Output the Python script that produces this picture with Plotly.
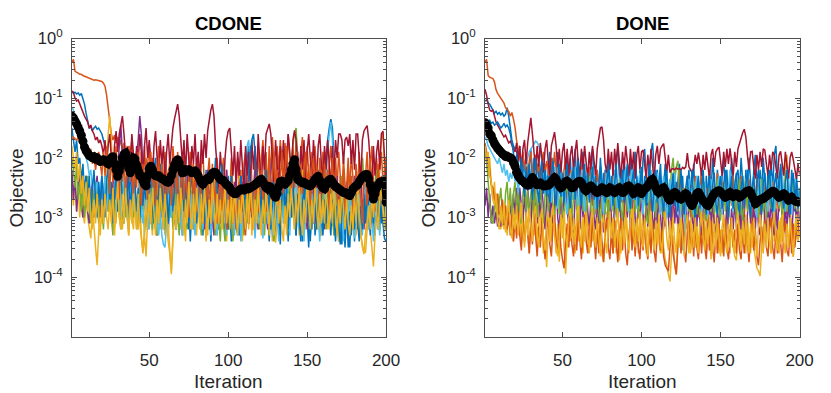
import plotly.graph_objects as go

# ---------------- data (log10 of objective value per iteration) ----------------
run_colors = ["#0072BD", "#D95319", "#EDB120", "#7E2F8E", "#77AC30",
              "#4DBEEE", "#A2142F", "#0072BD", "#D95319", "#EDB120"]
x_tick_values = [50, 100, 150, 200]
y_tick_values = [1, 0.1, 0.01, 0.001, 0.0001]
y_tick_labels = ["10<sup>0</sup>", "10<sup>-1</sup>", "10<sup>-2</sup>", "10<sup>-3</sup>", "10<sup>-4</sup>"]

# ---- CDONE ----
cdone_run01 = [-0.9,-0.92,-0.9,-0.93,-0.91,-0.95,-0.92,-1.0,-1.1,-1.25,-1.4,-1.5,-1.48,-1.55,-1.5,-1.47,-1.52,-1.5,-1.55,-1.6,
-1.7,-1.8,-1.9,-2.0,-2.1,-2.2,-2.05,-2.25,-2.1,-2.2,-2.0,-2.3,-2.1,-2.25,-2.05,-2.2,-2.1,-2.3,-2.05,-2.2,
-2.3,-2.05,-2.2,-2.35,-2.1,-2.25,-2.4,-2.1,-2.5,-2.9,-2.3,-2.8,-2.2,-2.0,-2.6,-3.1,-2.4,-2.7,-3.2,-2.5,
-2.9,-3.3,-2.6,-3.0,-2.2,-2.7,-3.2,-2.5,-2.0,-2.8,-3.3,-2.6,-3.0,-2.3,-2.7,-3.4,-2.9,-2.3,-3.1,-2.6,
-2.1,-2.9,-2.4,-3.3,-2.8,-2.2,-3.0,-2.6,-3.4,-2.9,-2.4,-2.0,-2.7,-3.2,-2.6,-2.2,-3.0,-3.3,-2.8,-2.3,
-2.9,-3.4,-2.6,-3.1,-2.3,-2.8,-3.3,-2.9,-2.4,-3.2,-2.5,-2.0,-1.8,-2.3,-2.9,-2.4,-3.3,-2.8,-3.1,-2.3,
-2.8,-3.2,-2.5,-2.1,-2.9,-3.4,-2.7,-2.3,-3.0,-3.3,-2.5,-2.9,-3.45,-2.7,-2.3,-3.1,-2.8,-3.4,-2.5,-3.0,
-2.3,-2.9,-3.3,-2.6,-3.1,-2.4,-3.4,-2.9,-2.3,-3.0,-3.5,-2.7,-3.2,-2.4,-3.3,-3.0,-2.2,-2.9,-3.3,-2.5,
-2.2,-1.9,-1.7,-1.5,-1.35,-1.5,-2.0,-2.6,-3.1,-3.4,-2.8,-3.45,-3.0,-3.5,-2.9,-3.3,-3.5,-2.9,-2.6,-3.4,
-2.8,-3.2,-2.5,-3.3,-2.7,-3.1,-2.4,-3.2,-2.8,-2.3,-3.1,-2.6,-3.3,-2.9,-2.4,-3.2,-2.7,-3.1,-3.35,-3.4]
cdone_run02 = [-0.4,-0.35,-0.55,-0.56,-0.58,-0.6,-0.6,-0.62,-0.63,-0.65,-0.66,-0.67,-0.67,-0.68,-0.7,-0.69,-0.7,-0.71,-0.72,-0.72,
-0.75,-0.8,-0.95,-1.2,-1.45,-1.6,-1.7,-1.62,-1.75,-1.65,-1.8,-1.7,-1.9,-1.75,-2.0,-1.8,-2.2,-1.9,-1.7,-2.1,
-2.4,-1.9,-2.2,-2.6,-1.9,-2.3,-1.8,-2.5,-2.1,-1.8,-2.4,-2.0,-2.3,-2.7,-2.1,-1.8,-2.4,-2.0,-2.6,-1.9,
-2.3,-2.7,-2.0,-2.4,-1.8,-2.2,-2.8,-1.9,-2.4,-2.0,-2.6,-1.9,-2.3,-2.9,-2.2,-1.9,-2.5,-2.1,-2.7,-2.0,
-2.4,-2.8,-2.1,-1.9,-2.5,-3.0,-2.3,-2.0,-2.7,-2.1,-2.9,-2.4,-2.0,-2.6,-3.1,-2.3,-2.0,-2.8,-2.2,-3.0,
-2.6,-2.0,-2.7,-3.1,-2.3,-2.0,-2.6,-2.2,-2.9,-2.1,-1.9,-2.5,-2.1,-1.8,-2.4,-2.8,-2.0,-2.5,-1.9,-2.4,
-2.0,-1.7,-2.3,-1.9,-2.6,-1.8,-2.3,-1.65,-2.1,-2.5,-1.8,-2.2,-1.7,-2.1,-2.4,-1.75,-2.2,-1.6,-2.0,-2.5,
-1.8,-2.3,-1.7,-2.2,-2.6,-1.9,-1.65,-2.2,-2.5,-1.8,-2.3,-2.7,-1.9,-2.4,-1.8,-2.3,-2.8,-2.0,-2.5,-1.9,
-2.4,-1.9,-2.6,-2.1,-1.8,-2.4,-2.8,-2.0,-2.5,-1.9,-2.3,-2.7,-2.0,-2.5,-2.9,-2.1,-2.6,-1.9,-2.4,-2.8,
-2.1,-2.6,-1.9,-2.5,-2.0,-2.8,-2.3,-1.9,-2.5,-2.1,-1.8,-2.4,-2.7,-2.0,-2.5,-2.2,-1.9,-2.4,-2.8,-2.5]
cdone_run03 = [-2.5,-2.8,-2.3,-2.9,-2.5,-3.0,-2.4,-2.9,-3.1,-2.6,-3.0,-3.2,-3.35,-2.8,-3.2,-3.5,-3.8,-3.2,-2.7,-3.1,
-2.6,-2.4,-2.1,-1.6,-1.3,-1.7,-2.4,-3.0,-3.1,-2.5,-3.0,-2.4,-3.2,-2.7,-2.3,-3.0,-3.3,-2.6,-3.0,-3.2,
-2.5,-2.9,-3.2,-2.6,-3.3,-3.6,-3.3,-3.65,-2.9,-2.4,-2.9,-3.3,-2.6,-3.0,-2.3,-2.9,-3.2,-2.5,-3.0,-3.3,
-2.7,-3.1,-3.5,-3.95,-3.4,-2.7,-2.3,-3.0,-2.5,-3.2,-2.6,-3.0,-3.4,-2.5,-2.9,-3.2,-2.6,-2.3,-3.0,-3.3,
-2.7,-2.4,-3.1,-2.6,-3.0,-3.4,-2.7,-2.4,-3.2,-2.6,-2.3,-3.0,-3.3,-2.7,-2.4,-3.2,-2.6,-3.0,-3.4,-2.7,
-2.4,-3.0,-3.3,-2.6,-3.2,-2.7,-2.3,-3.0,-3.4,-2.6,-3.0,-2.5,-3.2,-2.7,-3.3,-2.6,-2.3,-3.0,-3.2,-2.6,
-3.0,-3.3,-2.6,-3.1,-2.7,-3.3,-2.9,-3.4,-3.0,-3.42,-3.1,-2.6,-3.0,-2.4,-3.1,-2.7,-3.3,-2.6,-3.0,-2.3,
-2.8,-3.2,-2.5,-3.0,-3.3,-2.6,-2.2,-2.9,-3.2,-2.5,-3.0,-3.3,-2.6,-2.3,-3.0,-3.2,-2.6,-2.9,-3.3,-2.5,
-3.0,-2.6,-3.2,-2.8,-2.3,-3.0,-3.3,-2.6,-3.0,-3.4,-2.7,-2.4,-3.1,-2.6,-3.0,-3.3,-2.7,-3.2,-2.6,-3.0,
-3.3,-2.7,-3.1,-3.3,-3.5,-3.6,-3.3,-2.9,-2.5,-3.2,-3.5,-3.82,-3.3,-2.8,-2.4,-2.0,-1.7,-1.56,-2.2,-2.9]
cdone_run04 = [-2.2,-2.7,-2.3,-2.9,-2.5,-2.2,-2.8,-3.0,-2.5,-2.3,-2.9,-3.1,-2.6,-2.4,-3.0,-2.5,-2.3,-2.8,-3.0,-2.4,
-2.8,-2.3,-2.9,-2.5,-2.2,-2.8,-2.4,-2.1,-2.7,-2.2,-1.8,-1.45,-2.0,-2.6,-2.9,-2.3,-3.0,-2.5,-2.2,-2.7,
-2.3,-2.0,-1.7,-1.3,-1.6,-2.2,-2.7,-3.0,-2.4,-2.8,-3.1,-2.5,-2.9,-3.2,-3.3,-2.7,-2.3,-3.0,-2.5,-2.2,
-2.8,-3.1,-2.5,-2.9,-2.3,-3.0,-3.2,-2.6,-2.2,-2.9,-2.4,-3.1,-2.6,-2.3,-3.0,-2.5,-2.9,-3.2,-2.6,-2.2,
-2.9,-2.4,-3.0,-2.6,-3.2,-2.5,-2.2,-2.9,-2.4,-3.0,-3.3,-2.6,-2.3,-2.9,-3.1,-2.5,-3.0,-2.6,-2.2,-2.9,
-3.2,-2.6,-3.0,-2.4,-2.9,-3.2,-2.6,-2.3,-3.0,-2.5,-2.2,-2.9,-3.1,-2.5,-3.0,-2.6,-2.2,-2.9,-3.2,-2.6,
-2.3,-3.0,-2.5,-2.9,-3.2,-2.6,-2.2,-2.0,-2.6,-3.0,-2.6,-3.2,-2.8,-2.3,-3.0,-2.5,-2.1,-2.7,-3.0,-2.5,
-2.9,-2.4,-2.1,-1.9,-2.4,-2.8,-3.0,-2.5,-2.9,-3.2,-2.6,-2.3,-2.9,-2.5,-3.1,-2.6,-2.3,-3.0,-2.5,-2.9,
-3.2,-2.6,-2.3,-3.0,-2.5,-2.9,-3.2,-2.6,-2.3,-2.9,-2.5,-3.1,-2.6,-3.0,-2.4,-2.9,-3.2,-2.5,-2.9,-2.3,
-2.7,-3.0,-2.5,-2.2,-2.9,-3.2,-2.6,-2.3,-3.0,-2.5,-2.9,-3.2,-2.6,-2.3,-2.9,-2.5,-3.0,-2.6,-2.3,-2.9]
cdone_run05 = [-2.0,-2.2,-2.5,-2.1,-2.7,-2.4,-2.9,-2.4,-3.0,-2.6,-2.3,-2.8,-3.1,-2.5,-2.9,-2.4,-2.8,-3.1,-2.5,-2.9,
-3.2,-2.6,-2.3,-2.9,-2.5,-3.0,-3.3,-2.6,-3.0,-2.4,-2.9,-3.2,-2.6,-2.3,-3.0,-2.6,-3.2,-2.8,-2.4,-3.0,
-2.6,-3.2,-2.8,-2.3,-3.0,-2.6,-3.3,-2.8,-2.4,-3.0,-2.6,-3.2,-2.5,-2.9,-3.3,-2.6,-3.0,-2.4,-2.9,-3.2,
-2.6,-2.3,-3.0,-2.6,-3.2,-2.8,-2.4,-3.0,-3.3,-2.6,-3.0,-2.4,-2.9,-3.2,-2.6,-2.3,-2.9,-3.2,-2.6,-3.0,
-2.4,-3.0,-3.3,-2.8,-2.4,-3.0,-2.6,-3.2,-2.8,-2.3,-3.0,-3.3,-2.6,-3.0,-3.4,-2.8,-3.1,-3.4,-2.9,-3.2,
-2.7,-3.1,-3.4,-2.9,-3.2,-2.7,-3.1,-2.5,-3.0,-3.3,-2.7,-3.1,-2.5,-2.9,-2.4,-2.8,-3.2,-2.6,-3.0,-3.2,
-2.6,-3.0,-3.3,-2.7,-3.1,-2.5,-3.0,-3.2,-3.4,-2.9,-2.5,-3.1,-2.7,-2.4,-3.0,-2.6,-3.1,-2.7,-2.3,-2.0,
-1.8,-1.6,-1.5,-2.0,-2.5,-2.9,-3.2,-2.6,-3.0,-2.4,-2.8,-3.3,-2.6,-3.0,-2.4,-2.9,-3.2,-2.6,-3.0,-2.5,
-2.9,-3.2,-2.6,-3.0,-2.4,-2.9,-3.3,-2.6,-3.0,-3.2,-2.6,-2.3,-2.9,-3.2,-2.6,-3.0,-2.4,-2.8,-3.2,-2.6,
-3.0,-2.4,-2.8,-2.3,-2.0,-2.5,-3.0,-2.6,-3.2,-2.8,-2.4,-3.0,-2.6,-2.2,-2.8,-3.2,-2.6,-2.3,-2.9,-3.0]
cdone_run06 = [-1.15,-1.2,-1.4,-1.5,-1.6,-1.65,-1.7,-1.8,-1.9,-2.0,-2.1,-2.3,-2.2,-2.5,-2.3,-2.6,-2.4,-2.7,-2.5,-2.3,
-2.7,-2.3,-2.9,-2.5,-2.2,-2.8,-3.1,-2.6,-2.3,-2.9,-2.4,-3.0,-2.7,-2.3,-2.6,-3.0,-3.2,-2.6,-2.4,-2.9,
-2.5,-3.0,-2.7,-2.2,-2.9,-3.1,-2.5,-3.0,-2.6,-3.2,-2.8,-2.4,-3.0,-2.6,-3.1,-3.3,-2.9,-3.3,-3.45,-3.5,
-3.1,-2.7,-2.3,-3.0,-2.5,-2.9,-3.2,-2.6,-2.3,-3.0,-3.3,-2.6,-2.2,-2.9,-2.5,-3.1,-2.6,-3.0,-3.3,-2.7,
-2.4,-3.0,-2.6,-3.2,-2.8,-2.3,-3.0,-2.6,-3.3,-2.8,-2.4,-3.0,-3.3,-2.7,-2.4,-3.1,-2.6,-3.0,-3.3,-2.6,
-3.0,-2.5,-2.9,-3.3,-2.6,-3.1,-2.7,-3.4,-2.9,-2.5,-2.1,-1.8,-1.7,-2.1,-2.6,-3.0,-3.35,-2.8,-3.1,-2.6,
-3.0,-3.35,-2.7,-2.4,-3.1,-2.6,-3.0,-3.3,-2.7,-2.4,-3.0,-3.4,-2.8,-2.5,-3.1,-2.7,-2.4,-3.0,-3.3,-2.6,
-3.0,-2.6,-2.3,-2.9,-3.2,-2.6,-3.0,-3.4,-2.8,-2.4,-3.0,-3.3,-2.6,-3.1,-2.7,-2.3,-3.0,-3.4,-2.8,-3.1,
-2.6,-2.2,-1.9,-1.6,-1.4,-1.7,-2.3,-2.8,-3.1,-2.7,-3.2,-2.8,-3.4,-2.8,-3.2,-2.7,-3.1,-2.6,-3.0,-3.35,
-2.7,-3.1,-2.6,-3.0,-3.3,-2.7,-2.4,-3.0,-3.2,-2.6,-3.0,-3.4,-2.8,-2.5,-3.0,-3.3,-2.6,-2.3,-2.9,-3.2]
cdone_run07 = [-0.88,-0.9,-1.0,-1.05,-1.03,-1.1,-1.15,-1.25,-1.3,-1.35,-1.4,-1.5,-1.45,-1.55,-1.6,-1.7,-1.65,-1.75,-1.7,-1.8,
-1.95,-1.7,-2.1,-1.8,-1.6,-2.0,-2.3,-1.8,-1.55,-1.9,-1.6,-1.45,-1.3,-1.6,-2.0,-2.3,-1.8,-2.1,-1.6,-1.9,
-2.3,-1.8,-2.1,-1.6,-1.9,-2.4,-1.8,-1.5,-2.0,-1.7,-2.0,-2.4,-1.8,-1.55,-2.0,-2.3,-1.7,-2.1,-1.8,-2.4,
-1.9,-1.6,-2.1,-1.8,-1.5,-1.35,-1.2,-1.1,-1.3,-1.7,-2.1,-1.7,-2.3,-1.6,-2.0,-2.4,-1.8,-2.1,-1.6,-2.2,
-1.9,-2.4,-1.7,-2.1,-1.6,-2.0,-1.55,-1.35,-1.2,-1.1,-1.3,-1.8,-2.1,-2.5,-1.9,-2.3,-2.6,-2.0,-1.7,-1.55,
-1.5,-1.9,-2.3,-1.8,-2.5,-1.9,-2.3,-1.7,-2.2,-2.6,-1.8,-2.3,-1.9,-2.5,-1.7,-2.2,-1.8,-2.4,-1.6,-2.1,
-2.5,-1.8,-2.2,-1.6,-1.5,-1.43,-1.6,-2.0,-2.4,-1.7,-2.1,-2.5,-1.8,-2.2,-1.7,-2.4,-2.0,-1.6,-1.9,-2.3,
-1.7,-1.54,-1.7,-2.1,-2.5,-1.8,-2.2,-1.7,-2.4,-1.9,-1.6,-2.0,-2.4,-1.7,-2.2,-2.5,-1.8,-1.6,-2.1,-2.4,
-1.8,-2.2,-1.7,-2.1,-2.5,-1.8,-2.3,-1.7,-2.0,-1.6,-1.6,-1.7,-2.1,-1.7,-1.65,-1.8,-1.6,-2.1,-1.7,-2.2,
-1.6,-1.6,-2.0,-2.4,-1.7,-1.55,-1.5,-1.46,-1.7,-2.1,-2.5,-1.8,-2.3,-1.9,-1.7,-2.2,-1.6,-1.55,-2.0,-2.4]
cdone_run08 = [-1.5,-1.7,-1.9,-1.7,-2.1,-2.0,-2.4,-2.1,-2.6,-2.3,-2.8,-2.3,-2.9,-2.5,-2.2,-2.7,-3.0,-2.4,-2.8,-2.3,
-2.7,-3.0,-2.4,-2.1,-2.8,-2.4,-3.1,-2.6,-2.2,-2.9,-2.5,-2.1,-2.8,-3.1,-2.4,-2.8,-2.2,-2.9,-2.5,-2.1,
-2.4,-2.9,-2.5,-3.1,-2.3,-2.8,-2.4,-2.9,-3.2,-2.5,-2.2,-2.8,-3.1,-2.4,-2.9,-2.5,-2.1,-2.8,-2.4,-3.0,
-2.5,-3.1,-2.7,-2.2,-2.9,-2.4,-2.1,-2.8,-3.1,-2.5,-2.2,-2.9,-2.4,-2.8,-3.2,-2.5,-2.2,-2.8,-2.4,-3.1,
-2.7,-2.2,-2.9,-2.5,-3.1,-2.4,-2.8,-3.2,-2.5,-2.2,-2.8,-3.1,-2.4,-2.9,-2.5,-2.1,-2.8,-2.4,-2.9,-3.2,
-2.7,-2.3,-2.9,-2.5,-3.1,-3.3,-2.7,-2.3,-2.9,-2.5,-3.2,-2.7,-2.3,-1.9,-1.7,-1.6,-1.9,-2.4,-2.8,-3.0,
-2.5,-3.1,-2.7,-2.2,-2.9,-2.5,-3.2,-2.7,-2.4,-3.0,-2.5,-2.9,-3.3,-2.7,-2.3,-2.9,-2.5,-3.2,-2.7,-3.0,
-2.5,-2.9,-3.3,-2.6,-3.0,-3.4,-2.8,-2.4,-3.1,-2.6,-3.0,-3.4,-2.7,-3.1,-2.6,-3.2,-2.8,-2.4,-3.0,-3.3,
-2.7,-3.1,-2.6,-2.9,-3.3,-2.7,-3.1,-3.4,-2.8,-3.2,-3.45,-2.9,-2.6,-3.3,-2.8,-3.5,-2.9,-3.3,-2.8,-3.2,
-2.6,-3.1,-3.4,-2.8,-3.2,-2.6,-3.1,-2.5,-2.9,-3.3,-2.7,-3.1,-2.4,-2.9,-3.2,-2.7,-3.1,-2.5,-2.9,-3.2]
cdone_run09 = [-1.7,-1.65,-1.68,-1.7,-1.66,-1.72,-1.68,-1.7,-1.75,-1.8,-1.9,-2.0,-1.85,-2.1,-1.95,-2.2,-2.0,-1.9,-2.1,-2.3,
-1.9,-2.3,-1.8,-2.2,-2.6,-1.9,-2.4,-2.0,-1.8,-2.3,-2.7,-2.0,-2.4,-1.9,-2.6,-2.2,-1.8,-2.4,-2.0,-2.7,
-2.1,-2.5,-1.9,-2.4,-2.8,-2.1,-2.5,-2.0,-2.7,-2.3,-1.9,-2.5,-2.1,-2.8,-2.3,-2.0,-2.6,-2.1,-2.5,-2.9,
-2.2,-2.6,-2.1,-2.8,-2.4,-2.0,-2.6,-2.2,-2.9,-2.4,-2.1,-2.7,-2.3,-2.6,-3.0,-2.4,-2.1,-2.7,-2.3,-2.9,
-2.5,-2.2,-2.7,-3.1,-2.5,-2.8,-2.3,-3.0,-2.5,-2.2,-2.8,-2.4,-3.1,-2.6,-2.3,-2.9,-2.4,-2.8,-3.2,-2.6,
-2.9,-2.4,-3.1,-2.6,-3.2,-2.7,-2.4,-2.9,-2.5,-3.1,-3.3,-2.7,-2.4,-2.9,-2.5,-3.2,-2.7,-2.3,-2.9,-2.5,
-2.2,-2.7,-2.3,-2.9,-2.4,-2.0,-2.7,-2.3,-1.9,-2.6,-2.2,-2.8,-2.3,-1.9,-2.6,-2.1,-1.8,-2.4,-2.0,-2.6,
-2.1,-2.5,-1.9,-2.4,-2.8,-2.1,-2.6,-2.2,-1.9,-2.5,-2.1,-2.8,-2.2,-2.0,-2.6,-2.1,-2.5,-2.9,-2.2,-2.6,
-2.1,-2.6,-2.2,-2.9,-2.4,-2.0,-2.7,-2.2,-2.6,-3.0,-2.3,-2.7,-2.2,-2.9,-2.5,-2.0,-2.7,-2.3,-3.0,-2.5,
-2.2,-2.8,-2.3,-2.7,-3.1,-2.4,-2.2,-2.8,-2.3,-2.0,-2.7,-2.3,-2.9,-2.4,-2.1,-2.8,-2.3,-2.7,-2.2,-2.0]
cdone_run10 = [-1.8,-2.0,-2.2,-1.9,-2.4,-2.1,-2.6,-2.3,-2.8,-2.4,-2.9,-2.5,-3.0,-3.2,-2.7,-3.1,-2.6,-3.0,-3.3,-2.7,
-3.1,-2.6,-3.0,-3.2,-2.7,-3.1,-2.5,-3.3,-2.8,-2.4,-3.0,-3.2,-2.6,-3.1,-2.5,-2.9,-3.3,-2.7,-3.1,-2.6,
-2.9,-3.2,-2.6,-3.1,-3.35,-3.55,-3.2,-2.7,-3.2,-2.6,-3.1,-2.5,-2.9,-3.3,-2.7,-3.1,-2.5,-2.9,-3.2,-2.6,
-3.1,-3.4,-3.6,-3.9,-3.3,-2.8,-3.2,-2.6,-3.1,-2.5,-2.9,-3.3,-2.7,-3.1,-2.4,-2.9,-3.2,-2.6,-3.1,-2.5,
-2.9,-3.2,-2.6,-3.1,-2.5,-2.9,-3.3,-2.7,-3.1,-2.4,-2.9,-3.2,-2.6,-3.1,-2.7,-3.2,-2.8,-2.5,-3.1,-2.7,
-3.2,-2.6,-3.1,-2.5,-2.9,-3.3,-2.7,-3.1,-2.5,-2.9,-3.2,-2.6,-3.1,-2.4,-2.9,-3.2,-2.7,-3.1,-2.5,-2.9,
-3.3,-2.7,-3.1,-2.5,-2.9,-3.2,-2.7,-3.1,-3.3,-2.8,-2.5,-3.1,-2.7,-3.2,-3.4,-2.8,-3.2,-2.6,-3.0,-2.5,
-2.9,-3.2,-2.6,-3.1,-2.5,-2.9,-3.3,-2.7,-3.1,-2.4,-2.9,-3.2,-2.7,-3.1,-2.5,-2.9,-3.2,-2.6,-3.1,-2.7,
-3.1,-2.5,-2.9,-3.2,-2.6,-3.1,-2.5,-2.9,-3.3,-2.7,-3.1,-2.5,-2.9,-3.2,-2.7,-3.1,-3.3,-2.8,-3.2,-2.6,
-3.1,-2.5,-2.9,-3.3,-3.45,-3.6,-3.58,-3.2,-2.8,-3.2,-2.6,-3.0,-2.5,-2.9,-3.2,-2.7,-2.4,-2.9,-3.2,-2.7]
cdone_mean = [-1.30,-1.33,-1.38,-1.43,-1.49,-1.55,-1.62,-1.72,-1.82,-1.88,-1.92,-1.96,-1.98,-2.0,-1.98,-2.02,-2.0,-2.04,-2.06,-2.05,
-2.03,-2.05,-2.08,-2.1,-2.04,-2.0,-1.98,-2.1,-2.2,-2.31,-2.22,-2.12,-2.0,-1.94,-1.92,-2.05,-2.18,-2.25,-2.12,-2.0,
-2.02,-2.12,-2.22,-2.3,-2.31,-2.38,-2.44,-2.47,-2.3,-2.18,-2.14,-2.2,-2.27,-2.3,-2.31,-2.3,-2.33,-2.35,-2.36,-2.38,
-2.4,-2.41,-2.38,-2.3,-2.2,-2.12,-2.06,-2.03,-2.08,-2.18,-2.25,-2.24,-2.2,-2.22,-2.2,-2.22,-2.25,-2.24,-2.22,-2.25,
-2.3,-2.36,-2.42,-2.44,-2.4,-2.36,-2.34,-2.36,-2.3,-2.26,-2.24,-2.25,-2.28,-2.32,-2.36,-2.37,-2.38,-2.42,-2.45,-2.47,
-2.5,-2.55,-2.58,-2.6,-2.6,-2.57,-2.55,-2.52,-2.52,-2.54,-2.52,-2.5,-2.52,-2.5,-2.48,-2.47,-2.45,-2.43,-2.4,-2.37,
-2.36,-2.4,-2.45,-2.5,-2.52,-2.48,-2.5,-2.56,-2.62,-2.66,-2.6,-2.48,-2.4,-2.39,-2.42,-2.44,-2.41,-2.38,-2.3,-2.2,
-2.1,-2.03,-2.2,-2.36,-2.38,-2.4,-2.42,-2.41,-2.43,-2.45,-2.46,-2.47,-2.44,-2.4,-2.36,-2.33,-2.31,-2.38,-2.46,-2.5,
-2.52,-2.46,-2.4,-2.37,-2.36,-2.4,-2.45,-2.48,-2.5,-2.52,-2.54,-2.56,-2.58,-2.58,-2.6,-2.62,-2.63,-2.58,-2.52,-2.49,
-2.47,-2.45,-2.4,-2.36,-2.32,-2.3,-2.28,-2.28,-2.35,-2.45,-2.55,-2.69,-2.6,-2.5,-2.45,-2.41,-2.4,-2.39,-2.39,-2.74]

# ---- DONE ----
done_run01 = [-1.05,-1.03,-1.08,-1.1,-1.15,-1.2,-1.25,-1.22,-1.27,-1.24,-1.28,-1.25,-1.3,-1.27,-1.16,-1.3,-1.55,-1.7,-1.8,-1.85,
-1.9,-2.1,-1.8,-2.3,-1.95,-2.4,-2.0,-2.5,-2.1,-1.85,-2.4,-2.0,-2.6,-2.1,-2.3,-2.7,-1.95,-2.4,-2.1,-2.7,
-2.2,-1.9,-2.5,-2.0,-2.7,-2.2,-1.9,-2.6,-2.1,-2.4,-2.8,-2.2,-1.9,-2.5,-2.0,-2.7,-2.2,-1.85,-2.4,-2.0,
-2.6,-2.2,-1.9,-2.5,-2.8,-2.2,-2.6,-2.0,-1.85,-2.4,-2.75,-2.2,-2.6,-2.0,-2.4,-2.85,-2.2,-2.7,-2.0,-2.5,
-2.8,-2.2,-2.6,-2.0,-1.85,-2.3,-2.75,-2.4,-2.0,-2.6,-2.9,-2.3,-2.0,-2.7,-2.2,-1.9,-2.4,-2.8,-2.2,-2.6,
-2.0,-1.85,-2.4,-2.8,-2.2,-1.9,-1.75,-2.1,-2.6,-2.2,-2.8,-2.3,-2.9,-2.5,-2.1,-2.7,-3.0,-2.4,-2.8,-2.3,
-2.7,-3.0,-2.4,-2.1,-2.7,-2.3,-2.9,-3.1,-2.5,-2.2,-2.8,-2.4,-2.1,-2.7,-3.0,-2.4,-2.8,-2.2,-2.6,-2.9,
-2.3,-2.7,-2.2,-2.6,-2.0,-2.4,-2.8,-2.2,-2.6,-2.9,-2.3,-2.0,-2.6,-2.2,-2.8,-2.4,-2.0,-2.6,-2.9,-2.3,
-2.2,-2.6,-2.0,-2.4,-2.8,-2.2,-2.6,-2.0,-2.4,-2.8,-2.2,-1.95,-2.5,-2.8,-2.2,-2.6,-2.0,-2.4,-2.8,-2.2,
-2.6,-2.1,-2.5,-1.95,-1.8,-2.3,-2.7,-2.1,-2.5,-2.8,-2.2,-2.0,-2.5,-2.8,-2.2,-2.6,-2.9,-2.3,-2.7,-2.5]
done_run02 = [-0.4,-0.35,-0.62,-0.65,-0.66,-0.67,-0.73,-0.86,-0.92,-0.96,-1.0,-1.03,-1.08,-1.16,-1.2,-1.22,-1.3,-1.24,-1.35,-1.49,
-1.71,-1.87,-2.0,-2.15,-1.9,-2.2,-1.95,-2.3,-2.05,-1.9,-2.2,-2.4,-1.95,-2.25,-2.05,-2.4,-2.1,-1.9,-2.3,-2.05,
-2.2,-2.45,-2.0,-2.3,-1.9,-2.2,-2.5,-2.1,-2.35,-2.6,-2.2,-2.0,-2.4,-2.65,-2.2,-2.45,-2.1,-2.35,-2.7,-2.25,
-2.5,-2.15,-2.4,-2.75,-2.3,-2.55,-2.15,-2.45,-2.8,-2.35,-2.6,-2.2,-2.5,-2.85,-2.4,-2.65,-2.25,-2.5,-2.9,-2.4,
-2.7,-2.3,-2.55,-2.95,-2.45,-2.75,-2.3,-2.6,-3.0,-2.5,-2.8,-2.35,-2.65,-3.05,-2.5,-2.8,-2.4,-2.7,-3.1,-2.55,
-2.85,-2.4,-2.7,-3.1,-2.55,-2.9,-2.45,-2.75,-3.15,-2.6,-2.9,-2.45,-2.8,-3.2,-2.65,-2.95,-2.5,-2.85,-3.2,-2.7,
-2.4,-2.9,-2.55,-2.2,-2.7,-3.0,-2.5,-2.8,-2.3,-2.65,-3.0,-2.45,-2.8,-2.3,-2.6,-3.0,-2.5,-2.2,-2.7,-3.05,
-2.5,-2.8,-2.3,-2.65,-3.0,-2.45,-2.75,-2.25,-2.6,-2.95,-2.4,-2.8,-2.3,-2.7,-3.05,-2.5,-2.8,-2.3,-2.65,-3.0,
-2.45,-2.8,-2.3,-2.6,-3.0,-2.5,-2.85,-2.35,-2.7,-3.1,-2.5,-2.8,-2.3,-2.7,-3.05,-2.5,-2.85,-2.4,-2.75,-3.1,
-2.55,-2.9,-2.4,-2.75,-3.15,-2.6,-2.9,-2.45,-2.8,-3.2,-2.6,-2.95,-2.5,-2.85,-3.25,-3.3,-3.45,-3.2,-3.35,-3.3]
done_run03 = [-1.9,-2.1,-2.3,-2.0,-2.5,-2.7,-2.4,-2.9,-2.6,-3.0,-3.2,-2.7,-3.2,-2.8,-3.3,-2.9,-2.7,-3.2,-3.4,-2.9,
-2.7,-3.2,-2.8,-3.4,-2.9,-3.5,-2.8,-3.2,-3.6,-2.9,-2.7,-3.3,-2.9,-3.5,-3.0,-2.8,-3.3,-3.6,-3.4,-3.83,
-3.2,-2.8,-3.4,-2.8,-3.2,-3.6,-3.1,-3.74,-3.2,-2.8,-3.5,-3.94,-3.3,-2.9,-3.4,-2.8,-3.3,-3.6,-3.0,-3.4,
-2.8,-3.3,-3.6,-3.0,-2.7,-3.3,-3.6,-2.9,-3.4,-3.0,-3.6,-3.1,-2.8,-3.5,-3.6,-3.74,-3.3,-2.9,-3.4,-2.8,
-3.3,-3.6,-3.0,-3.6,-3.2,-3.72,-3.3,-2.9,-3.4,-2.8,-3.2,-3.6,-3.0,-3.4,-2.8,-3.5,-3.1,-3.6,-3.0,-3.4,
-2.8,-3.3,-3.6,-3.0,-2.8,-3.4,-3.0,-3.6,-3.2,-2.8,-3.4,-3.6,-3.1,-3.5,-3.7,-3.8,-3.95,-4.07,-3.6,-3.3,
-3.8,-3.96,-3.4,-3.0,-3.5,-2.9,-3.4,-2.8,-3.2,-3.6,-3.0,-3.4,-2.8,-3.5,-3.1,-3.6,-3.0,-3.4,-2.8,-3.3,
-3.6,-3.0,-3.4,-3.7,-3.1,-2.8,-3.4,-3.0,-3.6,-3.2,-3.6,-3.0,-3.4,-2.8,-3.3,-3.6,-3.0,-3.5,-3.65,-3.72,
-3.3,-2.9,-3.4,-2.8,-3.2,-3.6,-3.0,-3.4,-3.6,-3.1,-3.5,-3.7,-3.85,-3.9,-3.98,-3.5,-3.2,-2.9,-3.4,-2.8,
-3.3,-3.6,-3.0,-3.4,-2.8,-3.2,-3.6,-3.0,-3.4,-2.6,-2.1,-1.95,-2.4,-3.0,-3.5,-3.66,-3.2,-2.9,-3.3,-2.9]
done_run04 = [-2.8,-2.5,-3.0,-2.6,-3.1,-2.8,-3.1,-2.9,-3.15,-3.0,-3.15,-3.05,-3.12,-3.0,-3.17,-3.05,-2.8,-3.0,-2.6,-2.95,
-2.5,-3.0,-2.5,-2.8,-3.1,-2.6,-3.0,-2.5,-2.85,-3.15,-2.6,-2.4,-2.9,-3.1,-2.6,-3.0,-2.5,-2.85,-3.2,-2.7,
-2.4,-3.0,-2.6,-3.1,-2.7,-2.4,-3.0,-3.2,-2.6,-3.0,-2.6,-2.35,-2.9,-3.1,-2.6,-3.0,-3.25,-2.7,-2.4,-3.0,
-3.2,-2.6,-3.0,-2.5,-2.35,-2.9,-3.15,-2.7,-2.4,-3.0,-3.2,-2.7,-3.1,-2.5,-2.95,-3.25,-2.7,-2.5,-3.05,-2.6,
-3.0,-3.3,-2.7,-2.5,-3.05,-2.6,-3.1,-3.3,-2.8,-2.5,-3.0,-2.6,-3.15,-2.7,-2.45,-3.0,-3.2,-2.7,-3.1,-2.6,
-3.0,-3.25,-2.7,-3.15,-2.65,-2.45,-3.0,-3.2,-2.7,-3.1,-2.6,-3.0,-3.3,-2.8,-3.15,-2.65,-3.1,-3.35,-2.85,-2.6,
-3.1,-2.65,-3.2,-2.8,-2.55,-3.1,-3.3,-2.8,-3.2,-2.7,-2.5,-3.0,-3.25,-2.75,-3.15,-2.65,-3.1,-3.3,-2.8,-2.55,
-3.05,-3.25,-2.75,-3.15,-2.65,-3.1,-3.35,-2.85,-3.2,-2.7,-2.55,-3.05,-3.25,-2.8,-3.2,-3.3,-2.85,-3.2,-2.7,-3.15,
-3.3,-2.8,-3.2,-2.7,-3.1,-3.3,-2.85,-2.6,-3.1,-3.25,-2.8,-3.2,-2.7,-3.15,-3.3,-2.8,-2.6,-3.05,-3.25,-2.8,
-3.15,-2.7,-3.1,-3.3,-2.85,-3.2,-2.7,-2.55,-3.05,-3.25,-2.8,-3.2,-2.7,-3.15,-3.3,-2.85,-2.65,-3.1,-2.75,-3.05]
done_run05 = [-1.9,-2.0,-2.4,-2.8,-3.05,-3.1,-2.8,-2.6,-3.0,-2.7,-2.5,-2.9,-3.1,-2.6,-2.4,-2.9,-2.5,-3.0,-2.6,-2.4,
-2.9,-2.5,-3.0,-3.1,-2.6,-2.4,-2.9,-2.55,-3.05,-2.6,-2.4,-2.95,-2.5,-3.0,-2.65,-2.4,-2.9,-3.1,-2.6,-2.45,
-2.95,-2.55,-2.3,-2.85,-3.05,-2.6,-2.4,-2.95,-2.5,-2.9,-3.1,-2.6,-2.4,-2.9,-2.55,-3.0,-2.6,-2.35,-2.85,-3.05,
-2.6,-2.35,-2.9,-2.5,-3.0,-2.6,-2.3,-2.85,-3.05,-2.55,-2.95,-2.5,-2.9,-3.1,-2.6,-2.4,-2.95,-2.55,-3.0,-2.6,
-2.35,-2.9,-2.5,-3.0,-2.6,-2.35,-2.85,-3.05,-2.6,-2.4,-2.9,-2.5,-3.0,-2.6,-2.35,-2.9,-2.55,-3.0,-2.65,-2.4,
-2.9,-2.5,-2.95,-3.1,-2.6,-2.35,-2.85,-2.5,-3.0,-2.6,-2.4,-2.9,-2.55,-3.0,-2.6,-2.35,-2.9,-2.5,-2.2,-2.0,
-2.4,-2.15,-2.05,-2.5,-2.9,-2.5,-3.0,-2.6,-2.4,-2.9,-2.55,-3.0,-2.6,-2.4,-2.95,-2.5,-3.0,-2.6,-2.35,-2.85,
-3.05,-2.6,-2.4,-2.9,-2.5,-2.95,-2.6,-2.35,-2.85,-3.05,-2.6,-2.4,-2.9,-2.5,-3.0,-2.6,-2.35,-2.9,-2.55,-3.0,
-2.6,-2.35,-2.85,-3.05,-2.6,-2.35,-2.9,-2.5,-2.95,-2.6,-2.35,-2.9,-2.5,-3.0,-2.6,-2.35,-2.9,-2.55,-3.0,-2.6,
-2.35,-2.85,-2.5,-2.95,-2.55,-2.3,-2.85,-2.5,-3.0,-2.6,-2.35,-2.9,-2.5,-2.95,-2.6,-2.35,-2.85,-2.5,-2.9,-2.55]
done_run06 = [-1.65,-1.7,-1.8,-1.85,-1.9,-1.95,-2.0,-2.05,-2.1,-2.0,-2.15,-2.25,-2.1,-2.3,-2.2,-2.4,-2.25,-2.35,-2.2,-2.4,
-2.3,-2.6,-2.3,-2.15,-2.45,-2.3,-2.1,-2.0,-1.9,-1.85,-1.8,-1.75,-1.72,-1.74,-1.8,-1.9,-2.05,-2.3,-2.6,-2.3,
-2.6,-2.25,-2.75,-2.4,-2.15,-2.6,-2.85,-2.4,-2.2,-2.65,-2.35,-2.7,-2.95,-2.45,-2.25,-2.7,-2.4,-2.15,-2.6,-2.85,
-2.4,-2.2,-2.65,-2.9,-2.45,-2.25,-2.7,-2.35,-2.1,-2.6,-2.85,-2.4,-2.7,-2.25,-2.6,-2.95,-2.45,-2.2,-2.7,-2.4,
-2.85,-2.45,-2.2,-2.65,-2.9,-2.45,-2.25,-2.7,-2.35,-2.15,-2.65,-2.9,-2.45,-2.2,-2.7,-2.4,-2.85,-2.45,-2.25,-2.7,
-2.95,-2.5,-2.3,-2.75,-2.4,-2.2,-2.65,-2.9,-2.45,-2.25,-2.7,-2.95,-2.5,-2.3,-2.75,-3.0,-2.55,-2.35,-2.8,-2.45,
-2.25,-2.7,-2.95,-2.5,-3.2,-3.55,-3.2,-2.9,-2.55,-2.35,-2.8,-2.5,-2.95,-2.55,-2.3,-2.8,-2.45,-2.95,-2.6,-2.4,
-2.8,-3.0,-2.55,-2.35,-2.8,-2.5,-2.9,-2.55,-2.3,-2.75,-2.95,-2.5,-2.35,-2.8,-2.45,-2.2,-2.7,-2.9,-2.5,-2.3,
-2.75,-2.95,-2.5,-2.3,-2.8,-2.45,-2.2,-2.7,-2.9,-2.5,-2.3,-2.8,-3.0,-2.55,-2.35,-2.8,-2.45,-2.25,-2.7,-2.9,
-2.5,-2.3,-2.75,-2.95,-2.55,-2.35,-2.8,-2.45,-2.2,-2.7,-2.9,-2.5,-2.3,-2.75,-2.95,-2.55,-2.35,-2.8,-2.5,-2.8]
done_run07 = [-0.85,-0.95,-1.1,-1.2,-1.22,-1.2,-1.3,-1.4,-1.45,-1.5,-1.55,-1.6,-1.65,-1.62,-1.7,-1.75,-1.72,-1.8,-1.85,-1.9,
-1.75,-2.05,-1.8,-2.2,-1.85,-1.7,-2.1,-1.75,-1.5,-1.33,-1.6,-1.95,-2.2,-1.8,-2.15,-1.75,-2.05,-2.25,-1.85,-1.7,
-2.05,-2.3,-1.8,-1.65,-1.57,-1.8,-2.15,-1.85,-2.25,-1.9,-1.75,-2.2,-1.85,-2.3,-1.95,-1.8,-2.2,-1.9,-1.7,-2.1,
-2.3,-1.85,-2.2,-1.8,-2.15,-2.35,-1.9,-2.2,-1.8,-2.05,-2.3,-1.85,-1.65,-1.5,-1.48,-1.7,-2.1,-2.25,-1.85,-2.2,
-1.9,-2.3,-1.85,-2.15,-1.75,-2.05,-2.35,-1.9,-2.2,-1.8,-2.1,-2.3,-1.85,-2.2,-1.9,-2.35,-1.95,-1.8,-2.2,-1.9,
-1.87,-2.1,-2.35,-1.95,-2.25,-1.85,-2.2,-2.4,-1.95,-1.8,-2.1,-1.85,-1.8,-1.76,-2.0,-2.25,-1.95,-2.25,-2.19,-2.18,
-2.2,-2.17,-2.19,-2.18,-2.2,-2.16,-2.18,-2.15,-1.92,-2.15,-2.2,-2.25,-2.17,-1.95,-2.1,-1.91,-2.1,-2.3,-1.95,-2.2,
-1.9,-2.15,-2.35,-1.95,-1.85,-2.15,-1.9,-1.85,-1.82,-2.05,-2.3,-1.9,-2.15,-1.85,-2.1,-1.84,-2.05,-2.3,-1.9,-2.15,
-1.85,-1.75,-1.65,-1.58,-1.52,-1.65,-1.95,-2.2,-1.9,-1.89,-2.15,-2.35,-1.95,-2.2,-1.9,-2.15,-1.85,-1.87,-2.1,-2.3,
-1.95,-2.2,-1.9,-1.95,-2.15,-2.35,-1.95,-1.89,-2.1,-2.3,-1.9,-2.15,-2.35,-2.0,-1.9,-2.03,-2.2,-2.35,-2.1,-2.28]
done_run08 = [-1.35,-1.38,-1.4,-1.37,-1.42,-1.4,-1.45,-1.43,-1.4,-1.45,-1.5,-1.47,-1.42,-1.48,-1.45,-1.5,-1.6,-1.75,-1.9,-2.1,
-1.95,-2.3,-2.45,-2.0,-2.4,-2.65,-2.15,-2.5,-2.1,-2.45,-2.7,-2.25,-2.0,-2.5,-2.75,-2.25,-2.05,-2.6,-2.2,-2.65,
-2.3,-2.75,-2.25,-2.05,-2.55,-2.8,-2.3,-2.1,-2.65,-2.25,-2.75,-2.35,-2.1,-2.6,-2.85,-2.35,-2.15,-2.7,-2.3,-2.05,
-2.55,-2.8,-2.35,-2.1,-2.65,-2.25,-2.75,-2.4,-2.15,-2.7,-2.3,-2.85,-2.4,-2.15,-2.65,-2.25,-2.75,-2.35,-2.1,-2.65,
-2.3,-2.8,-2.35,-2.1,-2.65,-2.9,-2.4,-2.2,-2.75,-2.35,-2.1,-2.65,-2.85,-2.4,-2.2,-2.7,-2.3,-2.8,-2.4,-2.15,
-2.7,-2.3,-2.8,-2.35,-2.1,-2.65,-2.9,-2.45,-2.2,-2.75,-2.35,-2.1,-2.7,-2.9,-2.45,-2.2,-2.75,-3.0,-2.5,-2.25,
-2.8,-2.4,-2.9,-2.45,-2.2,-2.75,-2.95,-2.5,-2.3,-2.85,-2.45,-2.2,-2.75,-3.0,-2.55,-2.3,-2.85,-2.45,-2.2,-2.75,
-2.95,-2.5,-2.3,-2.85,-2.45,-2.25,-2.75,-2.95,-2.5,-2.3,-2.85,-2.45,-2.2,-2.75,-3.0,-2.55,-2.3,-2.85,-2.45,-2.25,
-2.75,-2.95,-2.5,-2.3,-2.85,-2.45,-2.2,-2.75,-3.0,-2.5,-2.3,-2.8,-2.4,-2.2,-2.7,-2.95,-2.45,-2.25,-2.75,-2.4,
-2.2,-2.7,-2.9,-2.45,-2.25,-2.75,-2.35,-2.15,-2.65,-2.85,-2.4,-2.2,-2.7,-2.95,-2.45,-2.25,-2.75,-2.4,-2.85,-2.55]
done_run09 = [-1.75,-1.9,-2.1,-2.2,-2.45,-2.5,-2.7,-2.75,-2.6,-2.95,-2.9,-2.7,-3.1,-2.8,-3.2,-2.9,-3.3,-2.95,-3.4,-3.0,
-3.35,-2.9,-3.3,-3.55,-3.05,-3.4,-2.95,-3.35,-3.6,-3.1,-3.45,-2.95,-3.4,-3.65,-3.15,-3.5,-3.0,-3.45,-3.7,-3.2,
-3.0,-3.45,-3.65,-3.15,-2.95,-3.4,-3.6,-3.1,-3.5,-3.7,-3.85,-3.4,-3.1,-3.5,-3.0,-3.45,-3.65,-3.15,-3.55,-3.05,
-3.45,-3.7,-3.2,-2.95,-3.4,-3.6,-3.1,-3.5,-3.0,-3.45,-3.7,-3.2,-3.6,-3.05,-3.5,-3.75,-3.25,-3.0,-3.5,-3.7,
-3.2,-3.6,-3.05,-3.5,-3.75,-3.25,-3.0,-3.55,-3.15,-3.6,-3.8,-3.3,-3.05,-3.55,-3.2,-3.65,-3.15,-3.5,-3.7,-3.2,
-3.55,-3.05,-3.5,-3.7,-3.2,-3.6,-3.1,-3.55,-3.75,-3.25,-3.05,-3.55,-3.2,-3.65,-3.8,-3.85,-3.9,-3.5,-3.2,-3.6,
-3.8,-3.95,-3.5,-3.2,-3.6,-3.1,-3.55,-3.75,-3.25,-3.05,-3.55,-3.2,-3.65,-3.1,-3.5,-3.7,-3.2,-3.6,-3.05,-3.5,
-3.7,-3.2,-3.55,-3.05,-3.5,-3.75,-3.25,-3.6,-3.1,-3.55,-3.2,-3.65,-3.05,-3.5,-3.7,-3.25,-3.0,-3.5,-3.2,-3.6,
-3.1,-3.55,-3.7,-3.2,-3.6,-3.05,-3.5,-3.75,-3.25,-3.05,-3.55,-3.2,-3.65,-3.8,-3.4,-3.15,-3.55,-3.05,-3.5,-3.65,
-3.2,-3.0,-3.5,-3.7,-3.2,-3.6,-3.1,-3.5,-3.75,-3.25,-3.05,-3.55,-3.65,-3.2,-3.6,-3.1,-3.5,-3.2,-3.05,-3.3]
done_run10 = [-1.8,-2.0,-1.9,-2.3,-2.4,-2.7,-2.8,-2.6,-3.05,-3.2,-2.8,-3.15,-2.75,-3.25,-2.95,-2.7,-3.2,-3.35,-2.85,-3.2,
-2.8,-3.3,-3.0,-2.75,-3.25,-3.45,-2.9,-3.3,-2.85,-3.2,-3.4,-2.95,-2.8,-3.3,-3.5,-3.0,-2.85,-3.35,-3.55,-3.05,
-2.9,-3.4,-3.0,-2.8,-3.3,-3.5,-3.65,-3.3,-2.95,-3.35,-2.9,-3.3,-3.5,-3.0,-2.85,-3.35,-3.0,-3.45,-2.95,-2.8,
-3.3,-3.5,-3.0,-3.4,-2.9,-3.35,-3.55,-3.05,-2.85,-3.3,-3.5,-3.0,-3.4,-3.65,-3.1,-2.95,-3.4,-3.6,-3.1,-2.9,
-3.35,-3.0,-3.5,-3.1,-2.85,-3.4,-3.6,-3.05,-3.45,-2.95,-3.35,-3.55,-3.05,-2.85,-3.3,-3.5,-3.0,-3.4,-2.9,-3.3,
-3.5,-3.0,-3.4,-3.65,-3.1,-2.9,-3.35,-3.55,-3.05,-3.45,-2.95,-3.4,-3.6,-3.1,-2.9,-3.35,-3.55,-3.05,-3.45,-3.0,
-3.4,-3.6,-3.1,-3.5,-3.0,-3.4,-3.65,-3.15,-2.95,-3.4,-3.6,-3.1,-3.5,-3.0,-3.4,-3.6,-3.1,-2.9,-3.35,-3.55,
-3.05,-3.45,-2.95,-3.4,-3.6,-3.1,-3.5,-3.0,-3.4,-3.65,-3.15,-2.95,-3.4,-3.6,-3.1,-3.5,-3.0,-3.4,-3.6,-3.1,
-2.9,-3.35,-3.55,-3.05,-3.45,-2.95,-3.4,-3.6,-3.1,-3.5,-3.0,-3.4,-3.65,-3.15,-2.95,-3.4,-3.6,-3.1,-3.5,-3.0,
-3.4,-3.6,-3.1,-2.9,-3.35,-3.55,-3.05,-3.45,-2.95,-3.4,-3.6,-3.1,-3.5,-3.0,-3.4,-3.65,-3.15,-2.95,-3.4,-3.25]
done_mean = [-1.41,-1.45,-1.5,-1.6,-1.63,-1.7,-1.76,-1.8,-1.84,-1.87,-1.9,-1.93,-1.95,-1.98,-1.97,-1.99,-2.0,-2.02,-2.08,-2.14,
-2.24,-2.3,-2.34,-2.37,-2.39,-2.42,-2.44,-2.46,-2.45,-2.38,-2.33,-2.38,-2.42,-2.45,-2.44,-2.42,-2.45,-2.47,-2.47,-2.45,
-2.46,-2.44,-2.4,-2.36,-2.33,-2.36,-2.42,-2.47,-2.5,-2.48,-2.44,-2.4,-2.39,-2.42,-2.46,-2.5,-2.49,-2.45,-2.42,-2.4,
-2.39,-2.42,-2.47,-2.53,-2.55,-2.52,-2.49,-2.47,-2.5,-2.53,-2.56,-2.58,-2.56,-2.53,-2.5,-2.52,-2.56,-2.58,-2.55,-2.5,
-2.52,-2.56,-2.58,-2.55,-2.52,-2.5,-2.54,-2.58,-2.57,-2.52,-2.48,-2.47,-2.5,-2.55,-2.6,-2.58,-2.54,-2.5,-2.52,-2.6,
-2.56,-2.52,-2.5,-2.47,-2.42,-2.38,-2.36,-2.42,-2.5,-2.56,-2.58,-2.55,-2.52,-2.5,-2.55,-2.62,-2.68,-2.71,-2.65,-2.6,
-2.58,-2.6,-2.64,-2.68,-2.69,-2.66,-2.62,-2.6,-2.63,-2.7,-2.76,-2.8,-2.74,-2.66,-2.6,-2.58,-2.62,-2.68,-2.72,-2.74,
-2.78,-2.8,-2.76,-2.7,-2.64,-2.6,-2.58,-2.56,-2.55,-2.57,-2.6,-2.63,-2.66,-2.64,-2.6,-2.58,-2.62,-2.65,-2.63,-2.6,
-2.62,-2.66,-2.64,-2.62,-2.6,-2.57,-2.56,-2.55,-2.58,-2.64,-2.7,-2.77,-2.75,-2.72,-2.7,-2.69,-2.68,-2.66,-2.64,-2.62,
-2.6,-2.58,-2.56,-2.57,-2.6,-2.63,-2.66,-2.64,-2.62,-2.6,-2.63,-2.67,-2.71,-2.69,-2.66,-2.7,-2.72,-2.73,-2.74,-2.74]

cdone_runs = [cdone_run01, cdone_run02, cdone_run03, cdone_run04, cdone_run05,
              cdone_run06, cdone_run07, cdone_run08, cdone_run09, cdone_run10]
done_runs = [done_run01, done_run02, done_run03, done_run04, done_run05,
             done_run06, done_run07, done_run08, done_run09, done_run10]

panels = [("CDONE", cdone_runs, cdone_mean, "x", "y"),
          ("DONE", done_runs, done_mean, "x2", "y2")]

# ---------------- figure ----------------
W, H = 831, 393
fig = go.Figure()

for title, runs, mean, xa, ya in panels:
    for i, run in enumerate(runs):
        fig.add_trace(go.Scatter(
            x=list(range(1, len(run) + 1)), y=[10 ** v for v in run],
            mode="lines", line=dict(color=run_colors[i % len(run_colors)], width=1.5),
            xaxis=xa, yaxis=ya, showlegend=False, hoverinfo="skip"))
    fig.add_trace(go.Scatter(
        x=list(range(1, len(mean) + 1)), y=[10 ** v for v in mean],
        mode="lines+markers", line=dict(color="black", width=7),
        marker=dict(color="black", size=9, line=dict(width=0)),
        xaxis=xa, yaxis=ya, showlegend=False, hoverinfo="skip"))

font_family = "Liberation Sans, Arial, Helvetica, sans-serif"
axis_color = "#4d4d4d"
text_color = "#262626"

minor_vals = [k * 10.0 ** e for e in range(-5, 0) for k in range(2, 10)]

def x_axis(domain, anchor):
    return dict(domain=domain, anchor=anchor, range=[1, 200], tickmode="array",
                tickvals=x_tick_values, ticks="inside", ticklen=5, tickcolor=axis_color,
                showline=True, linecolor=axis_color, linewidth=1, mirror="allticks",
                showgrid=False, zeroline=False, ticklabelstandoff=8,
                tickfont=dict(family=font_family, size=17, color=text_color))

def y_axis(anchor):
    return dict(domain=[0.1468, 0.928], anchor=anchor, type="log", range=[-5, 0],
                tickmode="array", tickvals=y_tick_values, ticktext=y_tick_labels,
                ticks="inside", ticklen=5, tickcolor=axis_color,
                minor=dict(tickmode="array", tickvals=minor_vals, ticks="inside",
                           ticklen=3, tickcolor=axis_color, showgrid=False),
                showline=True, linecolor=axis_color, linewidth=1, mirror="allticks",
                showgrid=False, zeroline=False, ticklabelstandoff=5,
                tickfont=dict(family=font_family, size=16.5, color=text_color))

left_dom = [73.1 / W, 392.7 / W]
right_dom = [493.3 / W, 813.3 / W]

annotations = []
for title, dom in (("CDONE", left_dom), ("DONE", right_dom)):
    cx = (dom[0] + dom[1]) / 2
    annotations.append(dict(text="<b>%s</b>" % title, x=cx, y=1 - 12.5 / H, xref="paper", yref="paper",
                            showarrow=False, xanchor="center", yanchor="middle",
                            font=dict(family=font_family, size=18.5, color="black")))
    annotations.append(dict(text="Iteration", x=cx, y=1 - 381 / H, xref="paper", yref="paper",
                            showarrow=False, xanchor="center", yanchor="middle",
                            font=dict(family=font_family, size=19, color=text_color)))
annotations.append(dict(text="Objective", x=16.5 / W, y=1 - 182.5 / H, xref="paper", yref="paper",
                        showarrow=False, xanchor="center", yanchor="middle", textangle=-90,
                        font=dict(family=font_family, size=19, color=text_color)))
annotations.append(dict(text="Objective", x=435.5 / W, y=1 - 182.5 / H, xref="paper", yref="paper",
                        showarrow=False, xanchor="center", yanchor="middle", textangle=-90,
                        font=dict(family=font_family, size=19, color=text_color)))

fig.update_layout(
    width=W, height=H, margin=dict(l=0, r=0, t=0, b=0),
    paper_bgcolor="white", plot_bgcolor="white",
    xaxis=x_axis(left_dom, "y"), yaxis=y_axis("x"),
    xaxis2=x_axis(right_dom, "y2"), yaxis2=y_axis("x2"),
    annotations=annotations, hovermode=False,
    font=dict(family=font_family, color=text_color),
)

fig.write_html("out.html", config={"displayModeBar": False})
